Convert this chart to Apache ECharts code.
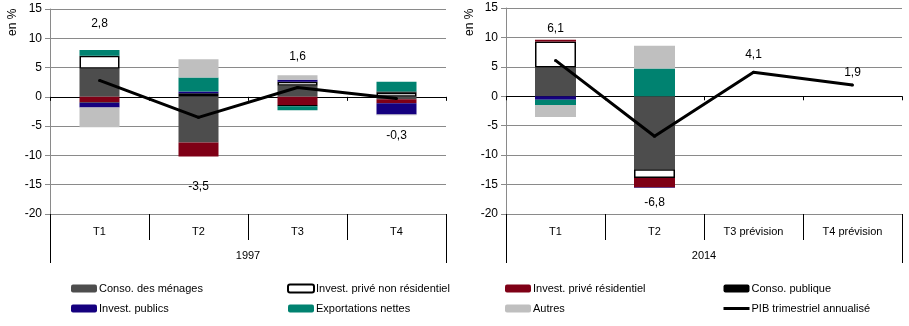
<!DOCTYPE html>
<html>
<head>
<meta charset="utf-8">
<script src="https://cdn.jsdelivr.net/npm/echarts@6/dist/echarts.min.js"></script>
<style>
html,body{margin:0;padding:0;background:#fff;}
#c{width:909px;height:326px;}
</style>
</head>
<body>
<div id="c"></div>
<script>
// ---- Data ----
const categories1997 = ['T1', 'T2', 'T3', 'T4'];
const categories2014 = ['T1', 'T2', 'T3 prévision', 'T4 prévision'];
const yearLabels = ['1997', '2014'];
const seriesNames = ['Conso. des ménages', 'Invest. privé non résidentiel', 'Invest. privé résidentiel', 'Conso. publique', 'Invest. publics', 'Exportations nettes', 'Autres'];
const lineName = 'PIB trimestriel annualisé';

const menages1997   = [4.8, -7.8, 1.9, -0.4];
const nonRes1997    = [2.2, 0.5, 0.7, 0.7];
const resid1997     = [-0.9, -2.4, -1.4, -0.7];
const consoPub1997  = [-0.1, 0.1, -0.2, 0.2];
const investPub1997 = [-0.8, 0.3, 0.3, -1.9];
const exports1997   = [1.0, 2.4, -0.7, 1.7];
const autres1997    = [-3.4, 3.1, 0.8, -0.15];
const pib1997       = [2.8, -3.5, 1.6, -0.3];

const menages2014   = [4.9, -12.4, null, null];
const nonRes2014    = [4.4, -1.5, null, null];
const resid2014     = [0.3, -1.6, null, null];
const consoPub2014  = [0, 0, null, null];
const investPub2014 = [-0.6, -0.1, null, null];
const exports2014   = [-0.9, 4.7, null, null];
const autres2014    = [-2.0, 3.9, null, null];
const pib2014       = [6.1, -6.8, 4.1, 1.9];

const yTicks = [-20, -15, -10, -5, 0, 5, 10, 15];

// ---- Styling ----
const FONT = '"Liberation Sans", Arial, sans-serif';
const colors = ['#4D4D4D', '#FFFFFF', '#7F0016', '#000000', '#15007F', '#008270', '#BFBFBF'];
const gridColor = '#8A8A8A';
// vertical label displacement (px) from each line point, as in the reference
const labelShift1997 = [-57, 69, -31, 37];
const labelShift2014 = [-32, 66, -17, -12];

const data1997 = [menages1997, nonRes1997, resid1997, consoPub1997, investPub1997, exports1997, autres1997];
const data2014 = [menages2014, nonRes2014, resid2014, consoPub2014, investPub2014, exports2014, autres2014];

const grids = [
  {left: 50, right: 463, top: 9, bottom: 112},
  {left: 506, right: 7, top: 8, bottom: 112}
];

const xAxes = [];
const yAxes = [];
[categories1997, categories2014].forEach((cats, g) => {
  xAxes.push({
    type: 'category', gridIndex: g, data: cats, position: 'bottom',
    axisLine: {onZero: false, lineStyle: {color: gridColor, width: 1}},
    axisTick: {show: true, length: 26, interval: 0, lineStyle: {color: '#000'}},
    axisLabel: {margin: 12, color: '#000', fontSize: 11, fontFamily: FONT, interval: 0},
    splitLine: {show: false}
  });
  xAxes.push({
    type: 'category', gridIndex: g, data: cats, position: 'top',
    axisLine: {onZero: true, lineStyle: {color: '#000', width: 1}},
    axisTick: {show: true, inside: true, length: 4, interval: 0, lineStyle: {color: '#000'}},
    axisLabel: {show: false}, splitLine: {show: false}
  });
  xAxes.push({
    type: 'category', gridIndex: g, data: [yearLabels[g]], position: 'bottom',
    axisLine: {show: false},
    axisTick: {show: true, length: 49, lineStyle: {color: '#000'}},
    axisLabel: {margin: 36, color: '#000', fontSize: 11, fontFamily: FONT},
    splitLine: {show: false}
  });
  yAxes.push({
    type: 'value', gridIndex: g, min: -20, max: 15, interval: 5,
    axisLine: {show: true, lineStyle: {color: gridColor}},
    axisTick: {show: true, length: 5, lineStyle: {color: gridColor}},
    axisLabel: {color: '#000', fontSize: 12, fontFamily: FONT, margin: 8,
      formatter: v => yTicks.includes(v) ? String(v) : ''},
    splitLine: {show: true, lineStyle: {color: gridColor, width: 1}}
  });
});

const series = [];
[data1997, data2014].forEach((sets, g) => {
  sets.forEach((vals, i) => {
    series.push({
      name: seriesNames[i], type: 'bar', stack: 'g' + g,
      xAxisIndex: g * 3, yAxisIndex: g,
      barWidth: g === 0 ? 40 : 41,
      data: vals,
      itemStyle: i === 1
        ? {color: '#FFFFFF', borderColor: '#000', borderWidth: 1.5}
        : {color: colors[i]},
      emphasis: {disabled: true},
      animation: false
    });
  });
});
[[pib1997, labelShift1997], [pib2014, labelShift2014]].forEach(([vals, shifts], g) => {
  series.push({
    name: lineName, type: 'line', xAxisIndex: g * 3, yAxisIndex: g,
    symbol: 'circle', symbolSize: 3, showSymbol: true, z: 10,
    lineStyle: {color: '#000', width: 3},
    itemStyle: {color: '#000'},
    emphasis: {disabled: true},
    label: {show: true, position: 'inside', color: '#000', fontSize: 12, fontFamily: FONT,
      formatter: p => String(p.value).replace('.', ',')},
    labelLayout: p => ({dy: shifts[p.dataIndex], hideOverlap: false}),
    data: vals,
    animation: false
  });
});

const legendCols = [
  [seriesNames[0], seriesNames[4]],
  [seriesNames[1], seriesNames[5]],
  [seriesNames[2], seriesNames[6]],
  [seriesNames[3], lineName]
];
const legendX = [71, 287, 505, 722];
const legends = legendCols.map((names, k) => ({
  orient: 'vertical', left: legendX[k], top: 283,
  itemWidth: 26, itemHeight: 8, itemGap: 9, padding: 0,
  selectedMode: false,
  textStyle: {color: '#000', fontSize: 11, fontFamily: FONT, padding: [0, 0, 0, -3]},
  data: names.map(n => n === lineName
    ? {name: n, itemStyle: {opacity: 0}, lineStyle: {color: '#000', width: 3}}
    : {name: n})
}));

const chart = echarts.init(document.getElementById('c'), null, {renderer: 'canvas'});
chart.setOption({
  animation: false,
  grid: grids,
  xAxis: xAxes,
  yAxis: yAxes,
  legend: legends,
  series: series,
  graphic: [
    {type: 'text', x: 7, y: 36, rotation: Math.PI / 2,
      style: {text: 'en %', fill: '#000', font: '12px ' + FONT}},
    {type: 'text', x: 464, y: 36, rotation: Math.PI / 2,
      style: {text: 'en %', fill: '#000', font: '12px ' + FONT}}
  ]
});
</script>
</body>
</html>
